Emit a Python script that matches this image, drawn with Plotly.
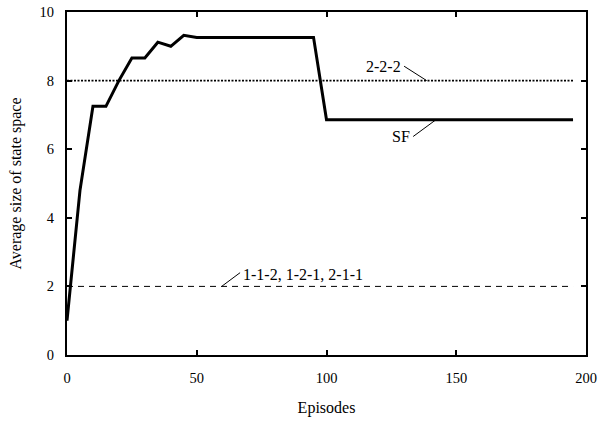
import plotly.graph_objects as go

# SF learning curve: average size of state space per episode
episodes = [0, 5, 10, 15, 20, 25, 30, 35, 40, 45, 50, 95, 100, 195]
sf_size = [1.0, 4.8, 7.25, 7.25, 8.0, 8.66, 8.66, 9.12, 9.0, 9.32, 9.26, 9.26, 6.86, 6.86]

# Fixed-structure baselines
ref_x = [0, 195]
size_222 = [8, 8]
size_112 = [2, 2]

x_ticks = [0, 50, 100, 150, 200]
y_ticks = [0, 2, 4, 6, 8, 10]

FONT = "Liberation Serif"

fig = go.Figure()
fig.add_trace(go.Scatter(x=ref_x, y=size_222, mode="lines",
                         line=dict(color="black", width=1.6, dash="2px,1.5px"),
                         hoverinfo="skip"))
fig.add_trace(go.Scatter(x=ref_x, y=size_112, mode="lines",
                         line=dict(color="black", width=1, dash="6px,5px"),
                         hoverinfo="skip"))
fig.add_trace(go.Scatter(x=episodes, y=sf_size, mode="lines",
                         line=dict(color="black", width=3),
                         hoverinfo="skip"))

# leader lines and labels
leaders = [
    # (x0, y0, x1, y1)
    (129.9, 8.42, 138.6, size_222[0]),
    (133.4, 6.37, 142.2, sf_size[-1]),
    (59.6, size_112[0], 66.7, 2.40),
]
for x0, y0, x1, y1 in leaders:
    fig.add_shape(type="line", x0=x0, y0=y0, x1=x1, y1=y1,
                  xref="x", yref="y", line=dict(color="black", width=1))

labels = [
    ("2-2-2", 129.5, 8.40, "right"),
    ("SF", 133.0, 6.37, "right"),
    ("1-1-2, 1-2-1, 2-1-1", 67.2, 2.36, "left"),
]
for text, x, y, anchor in labels:
    fig.add_annotation(text=text, x=x, y=y, xref="x", yref="y",
                       xanchor=anchor, yanchor="middle", showarrow=False,
                       font=dict(family=FONT, size=16, color="black"))

axis_common = dict(
    showline=True, linecolor="black", linewidth=2, mirror="ticks",
    ticks="inside", ticklen=5, tickwidth=1.5, tickcolor="black",
    showgrid=False, zeroline=False, automargin=False,
    tickfont=dict(family=FONT, size=14.5, color="black"),
)

fig.update_layout(
    width=602, height=432,
    margin=dict(l=67, r=16, t=12, b=77),
    paper_bgcolor="white", plot_bgcolor="white",
    showlegend=False,
    font=dict(family=FONT, color="black"),
    xaxis=dict(range=[0, 200], tickvals=x_ticks, ticklabelstandoff=9,
               title=dict(text="Episodes", standoff=16,
                          font=dict(family=FONT, size=16, color="black")),
               **axis_common),
    yaxis=dict(range=[0, 10], tickvals=y_ticks, ticklabelstandoff=8,
               title=dict(text="Average size of state space", standoff=14,
                          font=dict(family=FONT, size=16, color="black")),
               **axis_common),
)

fig.write_html("out.html")
